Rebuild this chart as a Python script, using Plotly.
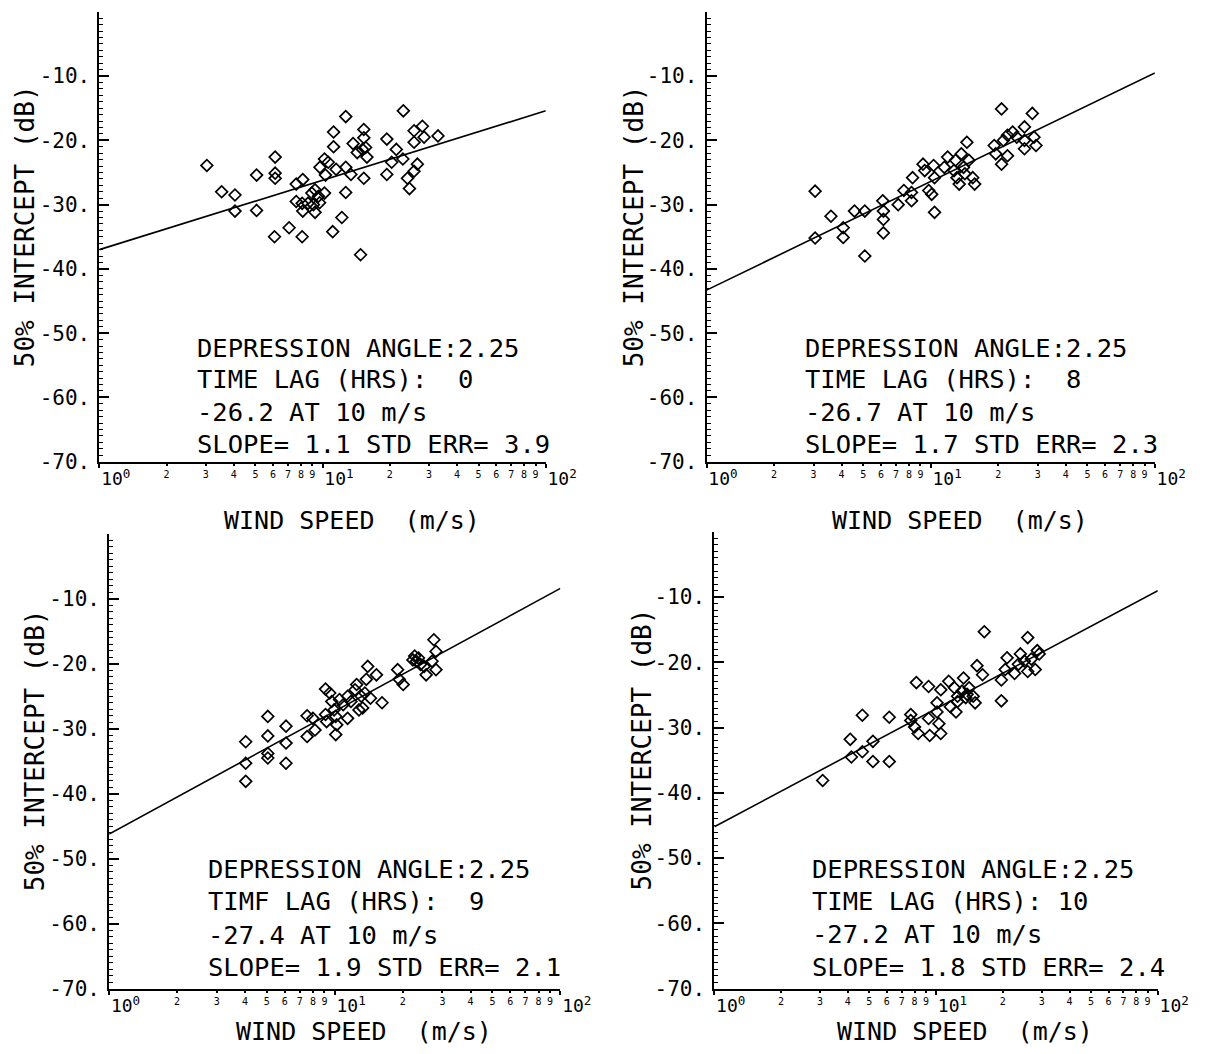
import plotly.graph_objects as go

W, H = 1219, 1054
FONT = "DejaVu Sans Mono"

# ---------------- data ----------------
# Top-left: time lag 0
tl_speed = [3.03, 3.53, 4.05, 4.05, 5.06, 5.06, 6.13, 6.13, 6.13, 6.09, 7.08, 7.62, 8.15, 7.62,
            8.10, 8.15, 8.10, 8.95, 9.25, 9.10, 9.25, 9.58, 10.2, 9.73, 10.2, 10.3, 11.2, 11.2,
            11.1, 12.2, 12.7, 12.7, 12.7, 13.4, 13.7, 14.8, 15.3, 15.3, 15.1, 15.6, 14.3, 15.8,
            19.4, 19.4, 20.4, 21.4, 22.9, 23.0, 24.0, 24.5, 25.7, 26.6, 25.7, 25.7, 28.0, 28.5,
            32.9, 8.6, 9.7, 15.3, 10.6, 11.5]
tl_db = [-23.9, -28.0, -28.5, -31.0, -25.4, -30.9, -22.6, -25.1, -25.9, -35.0, -33.6, -26.8, -26.1,
         -29.5, -29.8, -31.0, -35.0, -28.2, -27.7, -30.0, -31.2, -28.7, -28.2, -24.2, -22.9, -25.4,
         -18.7, -21.0, -34.2, -32.0, -28.1, -16.3, -24.2, -25.3, -20.5, -37.8, -18.3, -25.9, -21.4,
         -21.1, -21.9, -22.6, -19.8, -25.3, -23.4, -21.4, -22.9, -15.4, -25.9, -27.5, -24.8, -23.7,
         -18.5, -20.3, -17.8, -19.5, -19.3, -29.8, -29.7, -19.6, -23.4, -24.5]

# Top-right: time lag 8
tr_speed = [3.05, 3.05, 3.59, 4.07, 4.07, 4.57, 5.08, 5.08, 6.11, 6.15, 6.15, 6.15, 7.16, 7.59,
            8.21, 8.21, 8.3, 9.24, 9.4, 9.8, 10.1, 10.4, 10.3, 10.4, 11.5, 11.9, 12.7, 12.9, 13.1,
            13.4, 13.7, 14.0, 14.2, 14.5, 14.8, 15.4, 15.7, 19.2, 19.5, 20.7, 20.7, 21.1, 22.0,
            22.0, 23.2, 24.2, 26.2, 26.2, 26.2, 28.4, 28.9, 29.5]
tr_db = [-27.9, -35.2, -31.8, -33.6, -35.1, -31.0, -31.0, -38.0, -29.4, -31.0, -32.3, -34.4, -30.0,
         -27.8, -29.4, -28.1, -25.8, -23.7, -24.7, -27.8, -28.4, -31.2, -23.9, -25.8, -24.2, -22.6,
         -24.7, -23.1, -25.8, -26.8, -22.1, -24.2, -25.2, -20.3, -23.1, -25.8, -26.8, -20.8, -22.1,
         -23.7, -15.1, -20.0, -19.2, -22.4, -18.7, -19.5, -17.9, -20.0, -21.3, -15.8, -19.5, -20.8]

# Bottom-left: time lag 9
bl_speed = [4.03, 4.03, 4.03, 5.05, 5.05, 5.05, 5.05, 6.08, 6.08, 6.08, 7.54, 7.54, 8.0, 8.17,
            9.1, 9.2, 9.1, 9.5, 9.7, 9.93, 10.1, 10.1, 10.2, 10.5, 10.9, 11.4, 11.4, 11.8, 12.3,
            12.5, 12.8, 13.1, 13.3, 13.6, 13.8, 14.4, 14.0, 15.3, 16.2, 19.0, 19.3, 20.1, 22.6,
            23.0, 23.5, 24.0, 24.9, 25.4, 27.0, 27.5, 28.1, 28.1, 22.2]
bl_db = [-32.0, -35.3, -38.1, -28.1, -31.1, -33.8, -34.5, -29.6, -32.2, -35.3, -28.0, -31.2, -28.4,
         -30.2, -27.8, -28.9, -23.9, -24.5, -25.8, -27.1, -28.1, -30.9, -29.4, -25.5, -26.3, -25.0,
         -28.4, -25.8, -24.0, -23.2, -27.1, -25.0, -26.8, -24.5, -22.4, -25.3, -20.4, -21.7, -26.0,
         -20.9, -22.4, -23.2, -18.8, -19.6, -19.1, -20.1, -20.4, -21.7, -19.6, -16.3, -18.1, -20.9,
         -19.4]

# Bottom-right: time lag 10
br_speed = [3.08, 4.10, 4.15, 4.65, 4.65, 5.19, 5.19, 6.15, 6.15, 7.69, 7.69, 8.0, 8.15, 8.3,
            9.25, 9.25, 9.36, 10.1, 10.1, 10.3, 10.5, 10.5, 11.4, 11.6, 12.1, 12.5, 12.3, 13.1,
            13.3, 13.6, 14.1, 14.7, 15.3, 16.2, 15.0, 16.5, 19.7, 19.7, 20.5, 20.9, 22.6, 23.5,
            24.0, 25.0, 25.9, 25.9, 26.9, 28.0, 28.6, 29.2, 12.5, 13.8]
br_db = [-38.1, -31.8, -34.5, -28.1, -33.7, -32.1, -35.2, -28.4, -35.2, -28.0, -28.9, -29.9, -23.1,
         -30.9, -23.7, -28.6, -31.2, -26.2, -27.6, -29.4, -24.2, -30.9, -22.9, -26.8, -23.9, -25.2,
         -27.6, -24.4, -22.4, -25.4, -23.9, -25.2, -20.5, -21.9, -26.2, -15.3, -22.7, -25.9, -21.1,
         -19.3, -21.7, -20.3, -18.7, -19.8, -21.4, -16.2, -19.5, -21.1, -18.2, -18.7, -26.0, -24.9]

# regression line end points (at 1 and 100 m/s)
line_speed = [1, 100]
tl_line = [-37.0, -15.4]
tr_line = [-43.3, -9.5]
bl_line = [-46.2, -8.4]
br_line = [-45.2, -9.0]

tl_text = ["DEPRESSION ANGLE:2.25", "TIME LAG (HRS):  0", "-26.2 AT 10 m/s", "SLOPE= 1.1 STD ERR= 3.9"]
tr_text = ["DEPRESSION ANGLE:2.25", "TIME LAG (HRS):  8", "-26.7 AT 10 m/s", "SLOPE= 1.7 STD ERR= 2.3"]
bl_text = ["DEPRESSION ANGLE:2.25", "TIMF LAG (HRS):  9", "-27.4 AT 10 m/s", "SLOPE= 1.9 STD ERR= 2.1"]
br_text = ["DEPRESSION ANGLE:2.25", "TIME LAG (HRS): 10", "-27.2 AT 10 m/s", "SLOPE= 1.8 STD ERR= 2.4"]

y_tickvals = [-70, -60, -50, -40, -30, -20, -10, 0]
y_ticktext = ["-70.", "-60.", "-50.", "-40.", "-30.", "-20.", "-10.", ""]
x_major_vals = [1, 10, 100]
x_major_text = ["10<sup>0</sup>", "10<sup>1</sup>", "10<sup>2</sup>"]
x_minor_vals = [2, 3, 4, 5, 6, 7, 8, 9, 20, 30, 40, 50, 60, 70, 80, 90]
x_minor_text = ["2", "3", "4", "5", "6", "7", "8", "9"] * 2

X_TITLE = "WIND SPEED  (m/s)"
Y_TITLE = "50% INTERCEPT (dB)"

# panel pixel boxes: (x_left, x_right, y_top, y_bottom), y-title x px, x-title y px
panels = [
    dict(speed=tl_speed, db=tl_db, line=tl_line, text=tl_text, box=(102, 560, 12, 467),
         ytx=25, xty=526, rows=[-52.3, -57.2, -62.3, -67.2]),
    dict(speed=tr_speed, db=tr_db, line=tr_line, text=tr_text, box=(725, 1185, 12, 467),
         ytx=650, xty=526, rows=[-52.3, -57.2, -62.3, -67.2]),
    dict(speed=bl_speed, db=bl_db, line=bl_line, text=bl_text, box=(112, 575, 540, 1000),
         ytx=36, xty=1043, rows=[-51.6, -56.5, -61.7, -66.7]),
    dict(speed=br_speed, db=br_db, line=br_line, text=br_text, box=(733, 1188, 538, 1000),
         ytx=659, xty=1043, rows=[-51.6, -56.5, -61.7, -66.7]),
]

fig = go.Figure()
annotations = []
layout = dict(
    width=W, height=H, margin=dict(l=0, r=0, t=0, b=0),
    paper_bgcolor="white", plot_bgcolor="white", showlegend=False,
    font=dict(family=FONT, color="black"),
)

for i, p in enumerate(panels, start=1):
    xl, xr, yt, yb = p["box"]
    xa = "x" if i == 1 else f"x{i}"
    ya = "y" if i == 1 else f"y{i}"
    xo = f"x{i + 4}"
    fig.add_trace(go.Scatter(x=line_speed, y=p["line"], mode="lines",
                             line=dict(color="black", width=1.6), xaxis=xa, yaxis=ya, hoverinfo="skip"))
    fig.add_trace(go.Scatter(x=p["speed"], y=p["db"], mode="markers",
                             marker=dict(symbol="diamond-open", size=9, color="black",
                                         line=dict(color="black", width=1.7)),
                             xaxis=xa, yaxis=ya))
    # invisible trace so that the overlay axis with the small digits is drawn
    fig.add_trace(go.Scatter(x=line_speed, y=p["line"], mode="lines", opacity=0,
                             line=dict(width=0), xaxis=xo, yaxis=ya, hoverinfo="skip"))

    xdom = [xl / W, xr / W]
    ydom = [1 - yb / H, 1 - yt / H]
    layout[f"xaxis{i}"] = dict(
        domain=xdom, anchor=ya, type="log", range=[0, 2],
        showline=True, linecolor="black", linewidth=2, mirror=False,
        showgrid=False, zeroline=False,
        tickmode="array", tickvals=x_major_vals, ticktext=x_major_text,
        ticks="outside", ticklen=4, tickwidth=1.5, tickcolor="black",
        ticklabelposition="outside right", ticklabelstandoff=0,
        tickfont=dict(family=FONT, size=18, color="black"),
    )
    layout[f"xaxis{i + 4}"] = dict(
        overlaying=xa, anchor=ya, type="log", range=[0, 2], side="bottom",
        showline=False, showgrid=False, zeroline=False,
        tickmode="array", tickvals=x_minor_vals, ticktext=x_minor_text,
        ticks="outside", ticklen=3, tickwidth=1.5, tickcolor="black",
        ticklabelstandoff=0,
        tickfont=dict(family=FONT, size=10, color="black"),
    )
    layout[f"yaxis{i}"] = dict(
        domain=ydom, anchor=xa, range=[-70, 0],
        showline=True, linecolor="black", linewidth=2,
        showgrid=False, zeroline=False,
        tickmode="array", tickvals=y_tickvals, ticktext=y_ticktext,
        ticks="inside", ticklen=10, tickwidth=1.5, tickcolor="black",
        ticklabelstandoff=3,
        tickfont=dict(family=FONT, size=21, color="black"),
        minor=dict(tickmode="linear", tick0=0, dtick=1, ticks="inside", ticklen=4,
                   tickwidth=1.2, tickcolor="black", showgrid=False),
    )
    for row, yv in zip(p["text"], p["rows"]):
        annotations.append(dict(
            text=row.replace(" ", "\u00a0"), xref=xa, yref=ya, x=0.43, y=yv,
            xanchor="left", yanchor="middle", showarrow=False,
            font=dict(family=FONT, size=25.5, color="black")))
    annotations.append(dict(
        text=Y_TITLE, xref="paper", yref=ya, x=p["ytx"] / W, y=-33.3,
        xanchor="center", yanchor="middle", textangle=-90, showarrow=False,
        font=dict(family=FONT, size=26, color="black")))
    annotations.append(dict(
        text=X_TITLE.replace(" ", "\u00a0"), xref=xa, yref="paper", x=1.13, y=1 - p["xty"] / H,
        xanchor="center", yanchor="middle", showarrow=False,
        font=dict(family=FONT, size=25, color="black")))

layout["annotations"] = annotations
fig.update_layout(**layout)
fig.write_html("out.html")
